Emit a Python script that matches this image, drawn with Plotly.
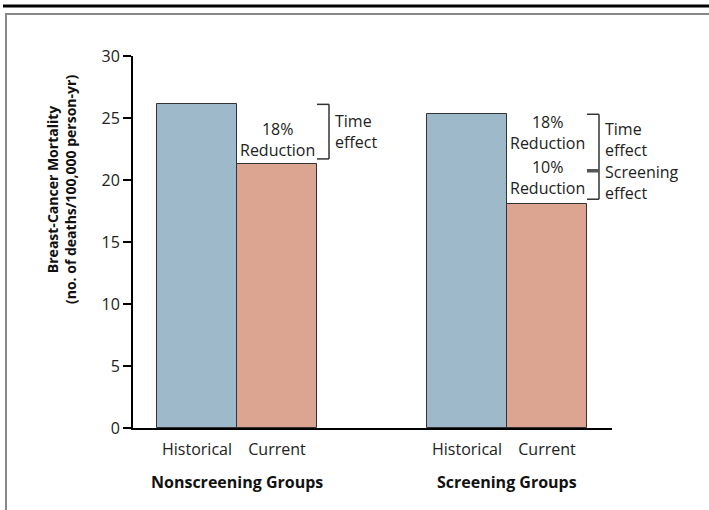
import plotly.graph_objects as go

# ---- data ----
groups = ["Nonscreening Groups", "Screening Groups"]
periods = ["Historical", "Current"]
historical = [26.1, 25.3]
current = [21.3, 18.1]
time_reduction = ["18%", "18%"]
screening_reduction = ["10%"]
y_ticks = [0, 5, 10, 15, 20, 25, 30]

# ---- layout geometry (pixels) ----
W, H = 709, 510
L, R, T, B = 133, 612, 56, 428
PW, PH = R - L, B - T

def px(x):
    return (x - L) / PW

def py(y):
    return (B - y) / PH

FONT = "Open Sans"
FS = 16
TXT = "#222"
C_HIST = "#9db9ca"
C_CUR = "#dba592"
EDGE = "#333333"

bar_w = 1.0
group_starts = [0.3, 3.675]
hist_x = [s + 0.5 for s in group_starts]
cur_x = [s + 1.5 for s in group_starts]

fig = go.Figure()
fig.add_trace(go.Bar(x=hist_x, y=historical, width=bar_w, marker=dict(color=C_HIST, line=dict(color=EDGE, width=1)),
                     name="Historical", showlegend=False, hoverinfo="y"))
fig.add_trace(go.Bar(x=cur_x, y=current, width=bar_w, marker=dict(color=C_CUR, line=dict(color=EDGE, width=1)),
                     name="Current", showlegend=False, hoverinfo="y"))

tickvals = []
ticktext = []
for hx, cx in zip(hist_x, cur_x):
    tickvals += [hx, cx]
    ticktext += periods

shapes = []
annotations = []

def txt(x, y, s, yshift=0, xanchor="center", xshift=0, align="center"):
    annotations.append(dict(x=x, y=y, xref="x", yref="y", text=s, showarrow=False, yshift=yshift,
                            xanchor=xanchor, xshift=xshift, align=align,
                            font=dict(size=FS, color=TXT)))

# Nonscreening bracket (time effect)
bx0 = cur_x[0] + bar_w / 2
bx1 = bx0 + 0.15
top, bot = historical[0], current[0] + 0.4
for seg in [(bx0, top, bx1, top), (bx1, top, bx1, bot), (bx1, bot, bx0, bot)]:
    shapes.append(dict(type="line", xref="x", yref="y", x0=seg[0], y0=seg[1], x1=seg[2], y1=seg[3],
                       line=dict(color="#333", width=1.5)))
txt(cur_x[0], (historical[0] + current[0]) / 2, f"{time_reduction[0]}<br>Reduction", yshift=-5)
txt(bx1, (top + bot) / 2, "Time<br>effect", xanchor="left", xshift=4, align="left")

# Screening bracket (time + screening effect)
sx0 = cur_x[1] + bar_w / 2
sx1 = sx0 + 0.15
stop = historical[1]
smid = historical[1] * (1 - float(time_reduction[1].strip("%")) / 100)
sbot = current[1] + 0.35
for seg in [(sx0, stop, sx1, stop), (sx1, stop, sx1, sbot), (sx1, sbot, sx0, sbot)]:
    shapes.append(dict(type="line", xref="x", yref="y", x0=seg[0], y0=seg[1], x1=seg[2], y1=seg[3],
                       line=dict(color="#333", width=1.5)))
shapes.append(dict(type="line", xref="x", yref="y", x0=sx0, y0=smid, x1=sx1, y1=smid,
                   line=dict(color="#555", width=3.5)))
txt(cur_x[1], (stop + smid) / 2, f"{time_reduction[1]}<br>Reduction", yshift=10)
txt(cur_x[1], (smid + current[1]) / 2, f"{screening_reduction[0]}<br>Reduction", yshift=10)
txt(sx1, (stop + smid) / 2, "Time<br>effect", yshift=3, xanchor="left", xshift=4, align="left")
txt(sx1, (smid + sbot) / 2, "Screening<br>effect", yshift=2, xanchor="left", xshift=4, align="left")

# Group labels
for g, hx, cx in zip(groups, hist_x, cur_x):
    annotations.append(dict(x=(hx + cx) / 2, y=py(482), xref="x", yref="paper", text=f"<b>{g}</b>",
                            showarrow=False, font=dict(size=FS, color="#111"), yanchor="middle"))

# Y title
annotations.append(dict(x=px(61), y=py(190), xref="paper", yref="paper", textangle=-90,
                        xanchor="center", yanchor="middle",
                        text="<b>Breast-Cancer Mortality</b><br><b>(no. of deaths/100,000 person-yr)</b>",
                        showarrow=False, font=dict(size=14, color="#111"), align="center"))

# Frame
shapes.append(dict(type="line", xref="paper", yref="paper", x0=px(3), x1=px(W), y0=py(6), y1=py(6),
                   line=dict(color="#000", width=3)))
shapes.append(dict(type="line", xref="paper", yref="paper", x0=px(5), x1=px(W), y0=py(14), y1=py(14),
                   line=dict(color="#888", width=2)))
shapes.append(dict(type="line", xref="paper", yref="paper", x0=px(6), x1=px(6), y0=py(14), y1=py(H),
                   line=dict(color="#888", width=2)))

fig.update_layout(
    width=W, height=H,
    margin=dict(l=L, r=W - R, t=T, b=H - B),
    paper_bgcolor="white", plot_bgcolor="white",
    font=dict(family=FONT, size=FS, color=TXT),
    bargap=0,
    shapes=shapes, annotations=annotations,
    xaxis=dict(range=[0, PW / 80], tickvals=tickvals, ticktext=ticktext, showgrid=False, zeroline=False,
               showline=True, linecolor="#000", linewidth=2, ticks="", ticklabelstandoff=6,
               tickfont=dict(size=FS, color=TXT), fixedrange=True),
    yaxis=dict(range=[0, 30], tickvals=y_ticks, showgrid=False, zeroline=False, showline=True,
               linecolor="#000", linewidth=2, ticks="outside", ticklen=8, tickwidth=1.5, tickcolor="#000",
               tickfont=dict(size=FS, color=TXT), fixedrange=True),
)

fig.write_html("out.html", config={"displayModeBar": False},
               post_script=("document.documentElement.style.overflow='hidden';"
                            "document.body.style.margin='0';document.body.style.overflow='hidden';"))
